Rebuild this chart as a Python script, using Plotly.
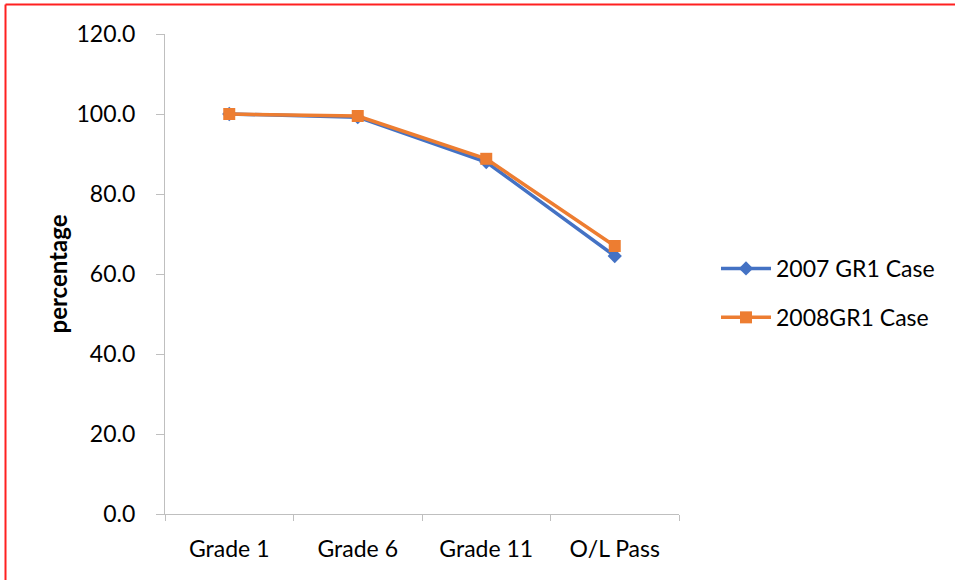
import plotly.graph_objects as go

categories = ["Grade 1", "Grade 6", "Grade 11", "O/L Pass"]
series_2007 = [100.0, 99.2, 88.0, 64.5]
series_2008 = [100.0, 99.5, 88.8, 67.0]
y_ticks = [0, 20, 40, 60, 80, 100, 120]
y_labels = ["0.0", "20.0", "40.0", "60.0", "80.0", "100.0", "120.0"]

W, H = 955, 580
L, R, T, B = 165, 679, 34, 514

fig = go.Figure()
fig.add_trace(go.Scatter(
    x=categories, y=series_2007, name="2007 GR1 Case", mode="lines+markers",
    line=dict(color="#4472C4", width=3.5),
    marker=dict(symbol="diamond", size=11, color="#4472C4"),
    legendgroup="a"))
fig.add_trace(go.Scatter(
    x=categories, y=series_2008, name="2008GR1 Case", mode="lines+markers",
    line=dict(color="#ED7D31", width=3.5),
    marker=dict(symbol="square", size=12, color="#ED7D31"),
    legendgroup="b"))

font_family = "Lato, 'Open Sans', sans-serif"

def px2x(px):
    return (px - L) / (R - L)

def px2y(py):
    return (B - py) / (B - T)

fig.update_layout(
    width=W, height=H,
    margin=dict(l=L, r=W - R, t=T, b=H - B),
    paper_bgcolor="white", plot_bgcolor="white",
    font=dict(family=font_family, size=23, color="black"),
    showlegend=True,
    legend=dict(x=px2x(716), y=px2y(247), xanchor="left", yanchor="top",
                font=dict(size=23), tracegroupgap=16, traceorder="grouped",
                itemwidth=50, bgcolor="rgba(0,0,0,0)"),
    xaxis=dict(type="category", tickson="boundaries", ticks="outside", ticklen=6,
               tickcolor="#BFBFBF", showline=True, linecolor="#BFBFBF", linewidth=1.3,
               showgrid=False, zeroline=False, ticklabelstandoff=14,
               range=[-0.5, 3.5]),
    yaxis=dict(range=[0, 120], tickvals=y_ticks, ticktext=y_labels,
               ticks="outside", ticklen=8, tickcolor="#BFBFBF",
               showline=True, linecolor="#BFBFBF", linewidth=1.3,
               showgrid=False, zeroline=False, ticklabelstandoff=16,
               title=dict(text="<b>percentage</b>", font=dict(size=24), standoff=2)),
    shapes=[
        dict(type="line", xref="paper", yref="paper",
             x0=px2x(5.5), x1=px2x(960), y0=px2y(4.5), y1=px2y(4.5),
             line=dict(color="#FF2020", width=2)),
        dict(type="line", xref="paper", yref="paper",
             x0=px2x(5.5), x1=px2x(5.5), y0=px2y(4.5), y1=px2y(585),
             line=dict(color="#FF2020", width=2)),
    ],
)

fig.write_html("out.html")
